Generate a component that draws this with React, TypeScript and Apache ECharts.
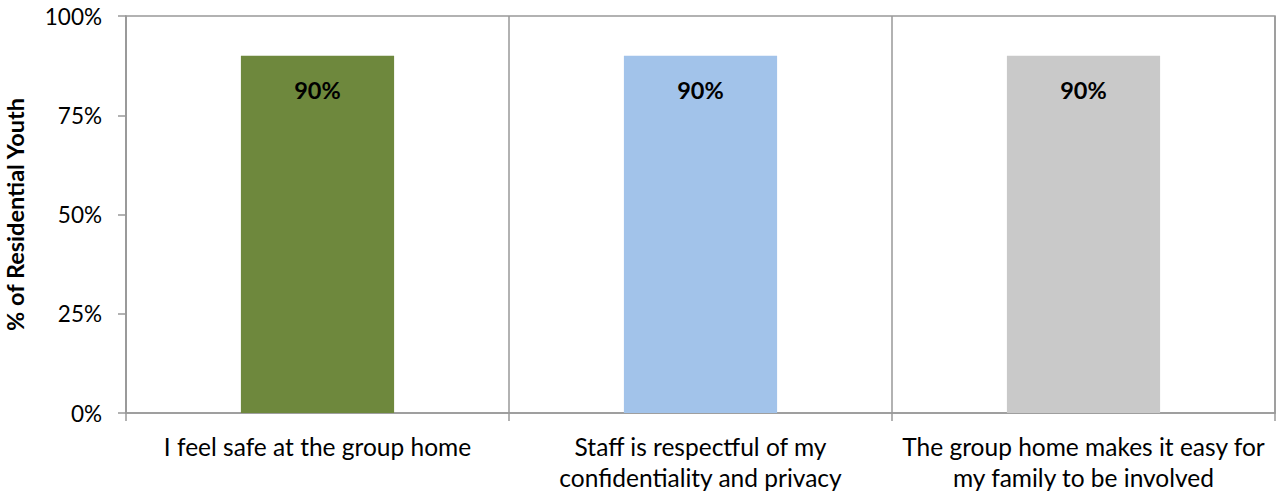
import React, { useEffect, useRef } from "react";
import * as echarts from "echarts";

const categories = [
  "I feel safe at the group home",
  "Staff is respectful of my\nconfidentiality and privacy",
  "The group home makes it easy for\nmy family to be involved",
];
const values = [90, 90, 90];
const barColors = ["#6E883D", "#A2C3EA", "#C9C9C9"];
const yTicks = [0, 25, 50, 75, 100];
const yAxisTitle = "% of Residential Youth";

const FONT = "Lato, 'Noto Sans', sans-serif";
const AXIS = "#999999";

export default function App() {
  const ref = useRef<HTMLDivElement>(null);
  useEffect(() => {
    if (!ref.current) return;
    const chart = echarts.init(ref.current, null, { renderer: "svg" });
    chart.setOption({
      animation: false,
      textStyle: { fontFamily: FONT },
      grid: {
        left: 126,
        right: 7,
        top: 16,
        bottom: 80,
        show: true,
        borderColor: AXIS,
        borderWidth: 1.5,
        containLabel: false,
        outerBoundsMode: "none",
      },
      xAxis: {
        type: "category",
        data: categories,
        axisLine: { lineStyle: { color: AXIS, width: 1.5 } },
        axisTick: { show: true, length: 8, lineStyle: { color: AXIS, width: 1.5 } },
        splitLine: { show: true, lineStyle: { color: AXIS, width: 1.5 } },
        axisLabel: {
          color: "#000",
          fontFamily: FONT,
          fontSize: 24.5,
          lineHeight: 31,
          margin: 18,
          interval: 0,
        },
      },
      yAxis: {
        type: "value",
        min: yTicks[0],
        max: yTicks[yTicks.length - 1],
        interval: 25,
        name: yAxisTitle,
        nameLocation: "middle",
        nameGap: 99,
        nameRotate: 90,
        nameTextStyle: {
          color: "#000",
          fontFamily: FONT,
          fontSize: 23.5,
          fontWeight: "bold",
        },
        axisLine: { show: true, lineStyle: { color: AXIS, width: 1.5 } },
        axisTick: { show: true, length: 8, lineStyle: { color: AXIS, width: 1.5 } },
        splitLine: { show: false },
        axisLabel: {
          color: "#000",
          fontFamily: FONT,
          fontSize: 22.5,
          margin: 24,
          formatter: (v: number) => `${v}%`,
        },
      },
      series: [
        {
          type: "bar",
          data: values.map((v, i) => ({ value: v, itemStyle: { color: barColors[i] } })),
          barWidth: "40%",
          label: {
            show: true,
            position: "insideTop",
            distance: 22,
            color: "#000",
            fontFamily: FONT,
            fontSize: 23.5,
            fontWeight: "bold",
            formatter: (p: any) => `${p.value}%`,
          },
        },
      ],
    });
    return () => chart.dispose();
  }, []);
  return (
    <div
      ref={ref}
      style={{ position: "absolute", left: 0, top: 0, width: 1282, height: 493 }}
    />
  );
}
